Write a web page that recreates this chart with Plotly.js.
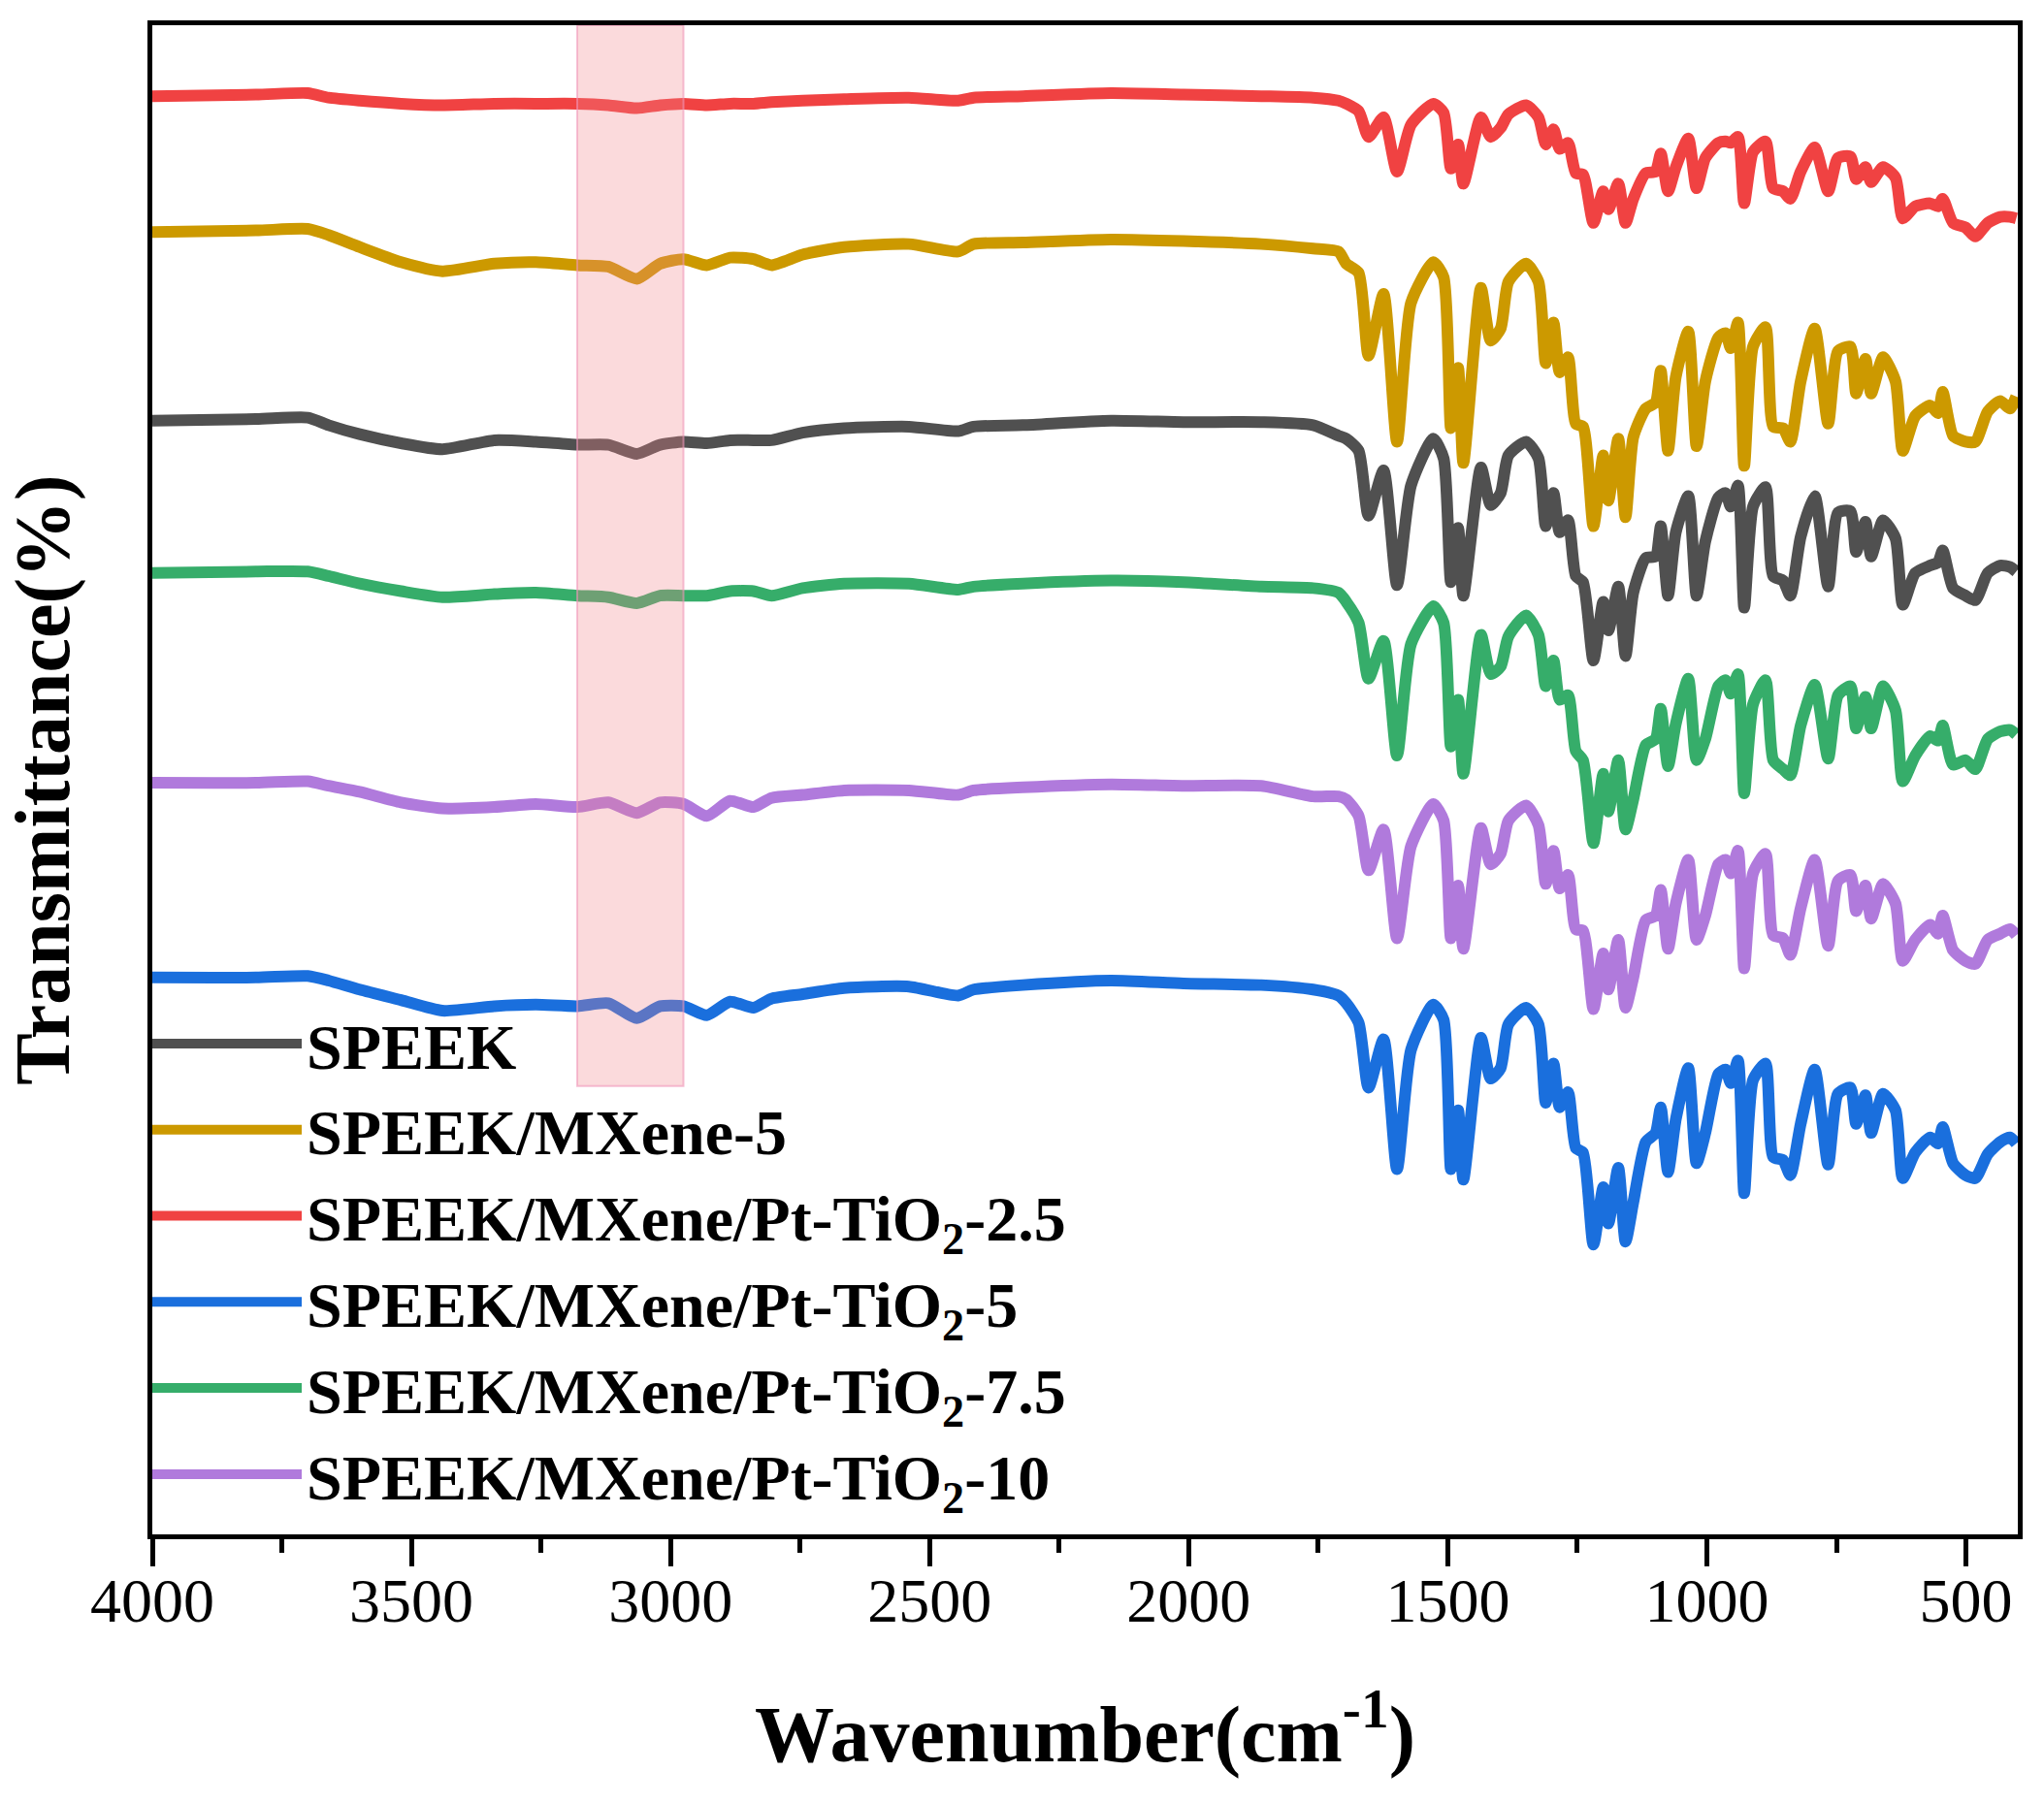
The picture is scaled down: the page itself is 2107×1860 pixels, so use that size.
<!DOCTYPE html>
<html>
<head>
<meta charset="utf-8">
<script src="https://cdn.plot.ly/plotly-3.0.1.min.js"></script>
<style>
  html, body { margin: 0; padding: 0; background: #ffffff; }
  #chart { width: 2107px; height: 1860px; }
</style>
</head>
<body>
<div id="chart"></div>
<script>
// wavenumber grid (cm-1), shared by every spectrum
const wavenumber = [
  4000, 3800, 3700, 3660, 3600, 3520, 3440, 3340, 3260, 3180, 3120, 3065, 3020, 2975,
  2930, 2885, 2840, 2805, 2745, 2665, 2540, 2445, 2415, 2320, 2150, 2010, 1860, 1760,
  1711, 1696, 1672, 1653, 1624, 1598, 1571, 1528, 1508, 1494, 1480, 1470, 1436, 1417,
  1398, 1383, 1349, 1325, 1311, 1296, 1284, 1268, 1253, 1239, 1219, 1200, 1190, 1171,
  1157, 1142, 1118, 1099, 1089, 1075, 1060, 1036, 1020, 1003, 978, 964, 954, 940,
  928, 911, 887, 872, 853, 839, 819, 792, 766, 747, 723, 712, 694, 683,
  660, 636, 622, 598, 569, 554, 545, 525, 501, 482, 458, 434, 415, 403
];

// transmittance (stacked, a.u.)
const speek = [
  73.8, 73.9, 74.0, 73.5, 72.9, 72.3, 71.9, 72.5, 72.4, 72.2, 72.2, 71.6, 72.2, 72.4,
  72.3, 72.5, 72.5, 72.5, 73.0, 73.3, 73.4, 73.1, 73.4, 73.5, 73.8, 73.7, 73.7, 73.5,
  72.8, 72.6, 71.8, 67.5, 70.5, 62.9, 69.5, 72.6, 71.3, 63.1, 66.7, 62.2, 70.7, 68.2,
  69.0, 71.5, 72.4, 71.3, 66.8, 69.0, 66.4, 67.2, 63.5, 63.1, 57.9, 61.8, 59.9, 62.8,
  58.2, 62.4, 64.7, 64.8, 66.8, 62.2, 66.4, 68.8, 62.2, 65.8, 68.7, 69.0, 68.1, 69.5,
  61.4, 68.1, 69.4, 63.5, 63.2, 62.2, 66.1, 68.8, 62.8, 67.7, 67.8, 65.1, 67.1, 64.8,
  67.2, 66.0, 61.6, 63.7, 64.2, 64.4, 65.2, 62.7, 62.2, 61.9, 63.7, 64.2, 64.1, 63.8
];
const mxene5 = [
  86.3, 86.4, 86.5, 86.1, 85.3, 84.3, 83.7, 84.2, 84.3, 84.1, 84.0, 83.2, 84.2, 84.5,
  84.1, 84.6, 84.5, 84.1, 84.8, 85.3, 85.5, 85.0, 85.5, 85.6, 85.8, 85.7, 85.5, 85.2,
  85.0, 84.2, 83.6, 78.1, 82.2, 72.4, 81.6, 84.3, 83.3, 73.3, 77.3, 71.0, 82.6, 79.1,
  79.9, 83.0, 84.2, 83.0, 77.6, 80.3, 77.0, 78.0, 73.6, 73.4, 66.8, 71.5, 68.5, 72.6,
  67.4, 72.7, 74.6, 75.0, 77.1, 71.8, 76.7, 79.7, 72.1, 76.4, 79.3, 79.6, 78.6, 80.3,
  70.8, 78.7, 80.0, 73.4, 73.3, 72.4, 76.4, 79.9, 73.6, 78.4, 78.7, 75.6, 77.9, 75.6,
  78.0, 76.4, 71.8, 74.1, 74.8, 74.3, 75.7, 72.8, 72.4, 72.4, 74.4, 75.1, 74.6, 75.4
];
const ptTiO2_25 = [
  95.3, 95.4, 95.5, 95.2, 95.0, 94.8, 94.7, 94.8, 94.8, 94.8, 94.7, 94.5, 94.7, 94.8,
  94.7, 94.8, 94.8, 94.9, 95.0, 95.1, 95.2, 95.0, 95.2, 95.3, 95.5, 95.4, 95.3, 95.2,
  95.0, 94.8, 94.3, 92.6, 93.9, 90.3, 93.4, 94.8, 94.2, 90.5, 92.1, 89.5, 93.9, 92.6,
  93.2, 94.1, 94.7, 93.9, 92.1, 93.1, 91.8, 92.2, 90.2, 90.1, 86.9, 89.0, 87.8, 89.5,
  86.9, 88.5, 90.2, 90.3, 91.5, 89.0, 90.6, 92.5, 89.2, 91.2, 92.2, 92.3, 92.2, 92.6,
  88.2, 91.6, 92.3, 89.2, 89.0, 88.5, 90.3, 91.9, 89.0, 91.2, 91.3, 89.8, 90.6, 89.6,
  90.6, 89.9, 87.2, 88.0, 88.2, 88.0, 88.5, 86.9, 86.6, 86.0, 86.9, 87.3, 87.3, 87.2
];
const ptTiO2_5 = [
  36.9, 36.9, 37.0, 36.7, 36.1, 35.4, 34.7, 35.0, 35.1, 35.0, 35.2, 34.2, 35.0, 35.0,
  34.4, 35.3, 34.9, 35.5, 35.8, 36.2, 36.3, 35.7, 36.1, 36.4, 36.7, 36.5, 36.4, 36.1,
  35.7, 35.2, 33.9, 29.6, 32.8, 24.2, 32.1, 35.1, 34.1, 24.2, 28.1, 23.5, 32.9, 30.2,
  30.9, 33.8, 34.9, 33.8, 28.6, 31.2, 28.3, 29.3, 25.6, 25.3, 19.2, 23.0, 20.6, 24.3,
  19.4, 22.0, 26.0, 26.6, 28.3, 24.0, 27.5, 30.9, 24.6, 26.6, 30.5, 30.8, 29.9, 31.4,
  22.6, 30.1, 31.2, 25.0, 24.8, 23.8, 27.2, 30.8, 24.5, 29.2, 29.6, 27.2, 29.1, 26.6,
  29.2, 28.1, 23.6, 25.3, 26.3, 25.9, 27.0, 24.6, 23.8, 23.6, 25.2, 26.0, 26.3, 25.9
];
const ptTiO2_75 = [
  63.7, 63.8, 63.8, 63.5, 63.0, 62.5, 62.1, 62.3, 62.4, 62.2, 62.1, 61.7, 62.2, 62.2,
  62.2, 62.5, 62.5, 62.2, 62.7, 63.0, 63.0, 62.6, 62.8, 63.0, 63.2, 63.1, 62.8, 62.7,
  62.4, 61.8, 60.4, 56.7, 59.2, 51.6, 59.0, 61.5, 60.4, 52.2, 55.3, 50.4, 59.6, 57.0,
  57.5, 59.5, 60.9, 59.6, 56.2, 57.9, 55.3, 55.6, 51.9, 51.3, 45.8, 50.4, 47.9, 51.3,
  46.7, 48.7, 52.3, 52.7, 54.7, 50.9, 53.7, 56.7, 51.3, 52.7, 56.2, 56.6, 55.7, 57.0,
  49.1, 55.0, 56.6, 51.3, 50.7, 50.3, 53.6, 56.3, 51.4, 55.6, 56.2, 53.4, 55.5, 53.4,
  56.2, 54.6, 49.9, 51.6, 52.9, 52.6, 53.6, 51.0, 51.3, 50.7, 52.7, 53.2, 53.3, 53.0
];
const ptTiO2_10 = [
  49.8, 49.8, 49.9, 49.6, 49.2, 48.5, 48.1, 48.2, 48.4, 48.2, 48.5, 47.8, 48.5, 48.4,
  47.6, 48.6, 48.2, 48.8, 49.0, 49.3, 49.3, 49.0, 49.3, 49.5, 49.7, 49.6, 49.6, 48.9,
  48.9, 48.7, 47.6, 44.0, 46.7, 39.5, 45.6, 48.4, 47.3, 39.5, 43.0, 38.8, 46.8, 44.4,
  45.1, 47.3, 48.3, 47.0, 43.1, 45.3, 42.8, 43.7, 40.1, 40.0, 34.8, 38.5, 36.1, 39.4,
  34.9, 36.9, 40.7, 41.0, 42.7, 38.8, 41.8, 44.7, 39.4, 41.0, 44.4, 44.7, 43.8, 45.3,
  37.5, 43.8, 45.1, 39.7, 39.5, 38.4, 41.5, 44.7, 39.0, 43.3, 43.7, 41.3, 43.0, 40.8,
  43.1, 41.8, 38.0, 39.4, 40.4, 39.8, 41.0, 38.7, 38.0, 37.8, 39.4, 39.8, 40.1, 39.7
];

const seriesNames = [
  "SPEEK",
  "SPEEK/MXene-5",
  "SPEEK/MXene/Pt-TiO<sub>2</sub>-2.5",
  "SPEEK/MXene/Pt-TiO<sub>2</sub>-5",
  "SPEEK/MXene/Pt-TiO<sub>2</sub>-7.5",
  "SPEEK/MXene/Pt-TiO<sub>2</sub>-10"
];
const seriesValues = [speek, mxene5, ptTiO2_25, ptTiO2_5, ptTiO2_75, ptTiO2_10];
const seriesColors = ["#505050", "#CC9900", "#F04242", "#1A6FDD", "#36AD6A", "#B07ADC"];

// highlighted band (C-H stretch region)
const bandRange = [3180, 2975];
const bandBottom = 29.7;

const serif = "Liberation Serif, Times New Roman, serif";

const traces = seriesValues.map((vals, i) => ({
  x: wavenumber,
  y: vals,
  type: "scatter",
  mode: "lines",
  name: seriesNames[i],
  line: { color: seriesColors[i], width: 12, shape: "spline", smoothing: 0.6 },
}));

const layout = {
  width: 2107,
  height: 1860,
  margin: { l: 157, r: 27, t: 26, b: 278 },
  paper_bgcolor: "#ffffff",
  plot_bgcolor: "#ffffff",
  font: { family: serif, color: "#000000" },
  xaxis: {
    range: [4000, 400],
    tick0: 500,
    dtick: 500,
    ticks: "outside",
    ticklen: 28,
    tickwidth: 5,
    tickcolor: "#000000",
    ticklabelstandoff: -20,
    tickfont: { family: serif, size: 64, color: "#000000" },
    minor: { dtick: 250, tick0: 250, ticks: "outside", ticklen: 14, tickwidth: 5, tickcolor: "#000000", showgrid: false },
    showline: true,
    linewidth: 5,
    linecolor: "#000000",
    mirror: true,
    showgrid: false,
    zeroline: false,
    title: {
      text: "Wavenumber(cm<sup>-1</sup>)",
      font: { family: serif, size: 82, weight: "bold", color: "#000000" },
      standoff: 75,
    },
  },
  yaxis: {
    range: [0, 100],
    showticklabels: false,
    ticks: "",
    showline: true,
    linewidth: 5,
    linecolor: "#000000",
    mirror: true,
    showgrid: false,
    zeroline: false,
    title: {
      text: "Transmittance(%)",
      font: { family: serif, size: 80, weight: "bold", color: "#000000" },
      standoff: 56,
    },
  },
  showlegend: true,
  legend: {
    x: -0.0026,
    xanchor: "left",
    y: 0.357,
    yanchor: "top",
    bgcolor: "rgba(0,0,0,0)",
    borderwidth: 0,
    itemwidth: 154,
    tracegroupgap: 0,
    font: { family: serif, size: 66, weight: "bold", color: "#000000" },
  },
  shapes: [
    {
      type: "rect",
      xref: "x",
      yref: "y",
      x0: bandRange[0],
      x1: bandRange[1],
      y0: bandBottom,
      y1: 100,
      fillcolor: "rgba(242,132,138,0.3)",
      line: { color: "rgba(240,150,185,0.6)", width: 2 },
      layer: "above",
    },
  ],
};

Plotly.newPlot("chart", traces, layout, { displayModeBar: false, responsive: false });
</script>
</body>
</html>
